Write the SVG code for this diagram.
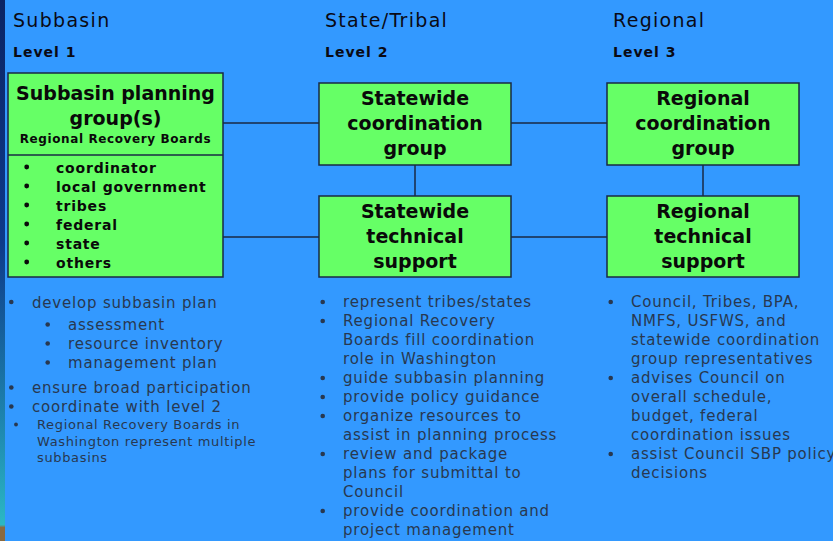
<svg xmlns="http://www.w3.org/2000/svg" width="833" height="541" viewBox="0 0 833 541">
<defs>
<linearGradient id="strip" x1="0" y1="0" x2="0" y2="1">
<stop offset="0" stop-color="#0b2464"/>
<stop offset="0.45" stop-color="#0d3a8a"/>
<stop offset="0.8" stop-color="#1f8ab0"/>
<stop offset="0.97" stop-color="#2bb8c4"/>
<stop offset="0.975" stop-color="#8a6a40"/>
<stop offset="1" stop-color="#8a6a40"/>
</linearGradient>
<style>
.box{fill:#66ff66;stroke:#1a2a44;stroke-width:1.5}
.con{stroke:#1a2a44;stroke-width:1.5;fill:none}
.h1{font-family:"DejaVu Sans",sans-serif;font-size:19px;letter-spacing:1.3px;fill:#0a0a14}
.h2{font-family:"DejaVu Sans",sans-serif;font-size:14px;font-weight:bold;letter-spacing:1px;fill:#0a0a14}
.t{font-family:"DejaVu Sans",sans-serif;font-size:19px;font-weight:bold;fill:#0a0a0a;text-anchor:middle}
.ts{font-family:"DejaVu Sans",sans-serif;font-size:12px;font-weight:bold;letter-spacing:0.6px;fill:#0a0a0a;text-anchor:middle}
.li{font-family:"DejaVu Sans",sans-serif;font-size:14px;font-weight:bold;letter-spacing:0.8px;fill:#0a0a0a}
.b{font-family:"DejaVu Sans",sans-serif;font-size:15px;letter-spacing:0.8px;fill:#283850}
.bs{font-family:"DejaVu Sans",sans-serif;font-size:13px;letter-spacing:0.65px;fill:#283850}
.dk{fill:#0a0a0a}
.dn{fill:#283850}
</style>
</defs>
<rect x="0" y="0" width="833" height="541" fill="#3399ff"/>
<rect x="0" y="0" width="5" height="541" fill="url(#strip)"/>

<g id="headings">
<text class="h1" x="13" y="27">Subbasin</text>
<text class="h2" x="13" y="57">Level 1</text>
<text class="h1" x="325" y="27">State/Tribal</text>
<text class="h2" x="325" y="57">Level 2</text>
<text class="h1" x="613" y="27">Regional</text>
<text class="h2" x="613" y="57">Level 3</text>
</g>

<g id="connectors">
<line class="con" x1="223" y1="123" x2="319" y2="123"/>
<line class="con" x1="511" y1="123" x2="607" y2="123"/>
<line class="con" x1="223" y1="237" x2="319" y2="237"/>
<line class="con" x1="511" y1="237" x2="607" y2="237"/>
<line class="con" x1="415" y1="165" x2="415" y2="196"/>
<line class="con" x1="703" y1="165" x2="703" y2="196"/>
</g>

<g id="subbasin-group">
<rect class="box" x="8" y="73" width="215" height="204"/>
<line class="con" x1="8" y1="155" x2="223" y2="155"/>
<text class="t" x="115.5" y="100">Subbasin planning</text>
<text class="t" x="115.5" y="125">group(s)</text>
<text class="ts" x="115.5" y="143">Regional Recovery Boards</text>
<g class="dk">
<circle cx="26.7" cy="167" r="2.4"/>
<circle cx="26.7" cy="186" r="2.4"/>
<circle cx="26.7" cy="205" r="2.4"/>
<circle cx="26.7" cy="224" r="2.4"/>
<circle cx="26.7" cy="243" r="2.4"/>
<circle cx="26.7" cy="262" r="2.4"/>
</g>
<g class="li">
<text x="56" y="173">coordinator</text>
<text x="56" y="192">local government</text>
<text x="56" y="211">tribes</text>
<text x="56" y="230">federal</text>
<text x="56" y="249">state</text>
<text x="56" y="268">others</text>
</g>
</g>

<g id="level1-notes">
<g class="dn">
<circle cx="11.3" cy="302" r="2.3"/>
<circle cx="47.7" cy="324.5" r="2.3"/>
<circle cx="47.7" cy="343.5" r="2.3"/>
<circle cx="47.7" cy="362.5" r="2.3"/>
<circle cx="11.3" cy="387.5" r="2.3"/>
<circle cx="11.3" cy="406.5" r="2.3"/>
<circle cx="16" cy="424.5" r="1.9"/>
</g>
<g class="b">
<text x="32" y="308">develop subbasin plan</text>
<text x="68" y="330">assessment</text>
<text x="68" y="349">resource inventory</text>
<text x="68" y="368">management plan</text>
<text x="32" y="393">ensure broad participation</text>
<text x="32" y="412">coordinate with level 2</text>
</g>
<g class="bs">
<text x="37" y="429">Regional Recovery Boards in</text>
<text x="37" y="446">Washington represent multiple</text>
<text x="37" y="462">subbasins</text>
</g>
</g>

<g id="statewide-coordination">
<rect class="box" x="319" y="83" width="192" height="82"/>
<text class="t" x="415" y="105">Statewide</text>
<text class="t" x="415" y="130">coordination</text>
<text class="t" x="415" y="155">group</text>
</g>

<g id="statewide-technical">
<rect class="box" x="319" y="196" width="192" height="81"/>
<text class="t" x="415" y="218">Statewide</text>
<text class="t" x="415" y="243">technical</text>
<text class="t" x="415" y="268">support</text>
</g>

<g id="regional-coordination">
<rect class="box" x="607" y="83" width="192" height="82"/>
<text class="t" x="703" y="105">Regional</text>
<text class="t" x="703" y="130">coordination</text>
<text class="t" x="703" y="155">group</text>
</g>

<g id="regional-technical">
<rect class="box" x="607" y="196" width="192" height="81"/>
<text class="t" x="703" y="218">Regional</text>
<text class="t" x="703" y="243">technical</text>
<text class="t" x="703" y="268">support</text>
</g>

<g id="level2-notes">
<g class="dn">
<circle cx="322.7" cy="302" r="2.3"/>
<circle cx="322.7" cy="321" r="2.3"/>
<circle cx="322.7" cy="378" r="2.3"/>
<circle cx="322.7" cy="397" r="2.3"/>
<circle cx="322.7" cy="416" r="2.3"/>
<circle cx="322.7" cy="454" r="2.3"/>
<circle cx="322.7" cy="511" r="2.3"/>
</g>
<g class="b">
<text x="343" y="307">represent tribes/states</text>
<text x="343" y="326">Regional Recovery</text>
<text x="343" y="345">Boards fill coordination</text>
<text x="343" y="364">role in Washington</text>
<text x="343" y="383">guide subbasin planning</text>
<text x="343" y="402">provide policy guidance</text>
<text x="343" y="421">organize resources to</text>
<text x="343" y="440">assist in planning process</text>
<text x="343" y="459">review and package</text>
<text x="343" y="478">plans for submittal to</text>
<text x="343" y="497">Council</text>
<text x="343" y="516">provide coordination and</text>
<text x="343" y="535">project management</text>
</g>
</g>

<g id="level3-notes">
<g class="dn">
<circle cx="610.7" cy="302" r="2.3"/>
<circle cx="610.7" cy="378" r="2.3"/>
<circle cx="610.7" cy="454" r="2.3"/>
</g>
<g class="b">
<text x="631" y="307">Council, Tribes, BPA,</text>
<text x="631" y="326">NMFS, USFWS, and</text>
<text x="631" y="345">statewide coordination</text>
<text x="631" y="364">group representatives</text>
<text x="631" y="383">advises Council on</text>
<text x="631" y="402">overall schedule,</text>
<text x="631" y="421">budget, federal</text>
<text x="631" y="440">coordination issues</text>
<text x="631" y="459">assist Council SBP policy</text>
<text x="631" y="478">decisions</text>
</g>
</g>
</svg>
